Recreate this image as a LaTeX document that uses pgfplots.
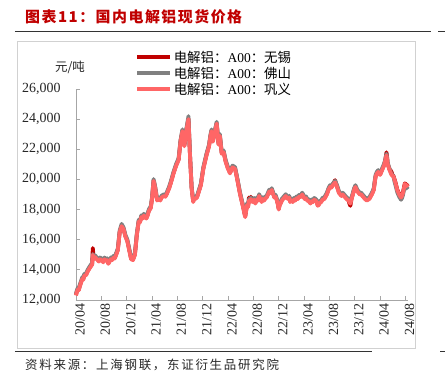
\documentclass[border=0pt]{standalone}
\usepackage{pgfplots}
\pgfplotsset{compat=1.18}
\usepackage{pgfplotstable}
\usepackage{fontspec}
\setmainfont{Liberation Serif}
\newfontfamily\cjk{Noto Sans CJK SC}
\definecolor{wx}{HTML}{C00000}
\definecolor{fs}{HTML}{808080}
\definecolor{gy}{HTML}{FF6666}
\definecolor{titlered}{HTML}{C00000}
\definecolor{axgray}{HTML}{A6A6A6}
\pgfplotstableread{
m gy fs wx
0.0 12300 12420 12340
0.15 12550 12670 12590
0.3 12700 12820 12740
0.45 12650 12770 12690
0.6 12900 13020 12940
0.8 13150 13270 13190
1.0 13400 13520 13440
1.15 13350 13470 13390
1.3 13600 13720 13640
1.6 13650 13770 13690
1.8 13850 13970 13890
2.0 14000 14120 14040
2.3 14200 14320 14240
2.55 14350 14470 14390
2.65 15000 15050 15450
2.8 14700 14820 14740
3.0 14850 14970 14890
3.2 14750 14870 14790
3.4 14650 14770 14690
3.6 14550 14670 14590
3.8 14700 14820 14740
4.0 14650 14770 14690
4.3 14500 14620 14540
4.5 14700 14820 14740
4.7 14600 14720 14640
4.9 14650 14770 14690
5.1 14400 14520 14440
5.3 14550 14670 14590
5.5 14700 14820 14740
5.7 14650 14770 14690
5.9 14800 14920 14840
6.1 14750 14870 14790
6.3 14950 15070 14990
6.6 15300 15420 15340
6.9 16500 16620 16540
7.2 16900 17050 16940
7.5 16700 16820 16740
7.8 16200 16320 16240
8.1 15900 16020 15940
8.4 15300 15420 15340
8.7 14700 14820 14740
9.0 14650 14770 14690
9.3 15000 15120 15040
9.6 16300 16420 16340
9.9 17200 17320 17240
10.1 17150 17270 17190
10.3 17500 17620 17540
10.5 17400 17520 17440
10.7 17600 17720 17640
10.9 17500 17620 17540
11.1 17400 17520 17440
11.3 17600 17720 17640
11.5 17900 18020 17940
11.8 18100 18220 18140
12.0 18700 18820 18740
12.25 19900 20020 19940
12.5 19400 19520 19440
12.8 18600 18720 18640
13.1 18700 18820 18740
13.3 18600 18720 18640
13.5 18800 18920 18840
13.9 18900 19020 18940
14.1 18850 18970 18890
14.3 19000 19120 19040
14.7 19400 19520 19440
15.0 19800 19920 19840
15.4 20400 20520 20440
15.8 20900 21020 20940
16.2 21300 21420 21340
16.5 22500 22620 22540
16.8 23200 23320 23240
17.1 22200 22320 22240
17.4 23200 23320 23240
17.75 24000 24200 24040
18.0 21500 21620 21540
18.25 19400 19520 19440
18.5 18500 18620 18540
18.65 18750 18870 18790
18.8 18700 18820 18740
19.1 18800 18920 18840
19.4 19200 19320 19240
19.7 19600 19720 19640
20.1 20700 20820 20740
20.6 21600 21720 21640
21.0 22200 22320 22240
21.2 22800 22920 22840
21.4 23200 23320 23240
21.6 22500 22620 22540
21.9 23100 23220 23140
22.2 23700 23820 23740
22.5 22300 22420 22340
22.7 22900 23020 22940
23.0 21700 21820 21740
23.3 21800 21920 21840
23.6 21200 21320 21240
23.9 20800 20920 20840
24.3 20400 20520 20440
24.7 20800 20920 20840
25.1 20700 20820 20740
25.4 20100 20220 20140
25.9 19000 19120 19040
26.4 18100 18220 18140
26.7 17500 17620 17540
27.0 18300 18420 18340
27.15 18150 18270 18190
27.3 18600 18700 18800
27.45 18500 18620 18540
27.6 18700 18800 18850
27.75 18550 18670 18590
27.9 18500 18620 18540
28.1 18650 18770 18690
28.3 18400 18520 18440
28.45 18550 18670 18590
28.6 18700 18820 18740
28.75 18600 18720 18640
28.9 18900 19020 18940
29.1 18700 18820 18740
29.3 18500 18620 18540
29.5 18700 18820 18740
29.7 18600 18720 18640
29.9 18750 18870 18790
30.1 18800 18920 18840
30.3 19000 19120 19040
30.5 19200 19320 19240
30.7 19100 19220 19140
30.9 19300 19420 19340
31.1 19050 19170 19090
31.3 18800 18920 18840
31.5 18850 18970 18890
31.7 18600 18720 18640
31.85 18350 18470 18390
32.0 18000 18120 18040
32.15 18300 18420 18340
32.3 18400 18520 18440
32.5 18600 18720 18640
32.7 18700 18820 18740
32.9 18800 18920 18840
33.1 18900 19020 18940
33.3 18750 18870 18790
33.5 18700 18820 18740
33.65 18800 18920 18840
33.8 18500 18620 18540
34.0 18600 18720 18640
34.2 18500 18620 18540
34.4 18650 18770 18690
34.6 18600 18720 18640
34.8 18750 18870 18790
35.0 18700 18820 18740
35.2 18850 18970 18890
35.4 18800 18920 18840
35.55 18900 19020 18940
35.7 19000 19120 19040
35.9 18850 18970 18890
36.1 18700 18820 18740
36.3 18750 18870 18790
36.5 18600 18720 18640
36.75 18550 18670 18590
37.0 18400 18520 18440
37.2 18550 18670 18590
37.4 18500 18620 18540
37.6 18650 18770 18690
37.8 18600 18720 18640
38.0 18500 18620 18540
38.15 18250 18370 18290
38.3 18300 18420 18340
38.5 18450 18570 18490
38.7 18500 18620 18540
38.9 18650 18770 18690
39.2 18700 18820 18740
39.4 18850 18970 18890
39.6 19000 19120 19040
39.85 19300 19420 19340
40.1 19500 19620 19540
40.3 19450 19570 19490
40.5 19600 19700 19640
40.7 19700 19800 19800
40.9 19800 19900 19950
41.05 19650 19770 19690
41.2 19500 19620 19540
41.35 19300 19420 19340
41.5 19100 19220 19140
41.7 19000 19120 19040
41.9 18900 19020 18940
42.1 19000 19120 19040
42.3 18900 19020 18940
42.5 18800 18920 18840
42.7 18700 18820 18740
42.85 18650 18770 18690
43.0 18600 18720 18640
43.15 18500 18620 18400
43.3 18400 18500 18250
43.5 18700 18820 18740
43.7 19000 19120 19040
43.9 19300 19420 19340
44.1 19500 19620 19540
44.25 19350 19470 19390
44.4 19200 19320 19240
44.6 19100 19220 19140
44.8 19000 19120 19040
45.0 19000 19120 19040
45.2 18900 19020 18940
45.4 18800 18920 18840
45.6 18700 18820 18740
45.75 18650 18770 18690
45.9 18600 18720 18640
46.1 18650 18770 18690
46.3 18700 18820 18740
46.5 18850 18970 18890
46.7 19000 19120 19040
46.85 19150 19270 19190
47.0 19300 19420 19340
47.15 19800 19920 19840
47.3 20200 20320 20240
47.5 20400 20520 20440
47.7 20500 20620 20540
47.85 20350 20470 20390
48.0 20300 20420 20340
48.15 20450 20570 20490
48.3 20600 20720 20640
48.45 20750 20870 20790
48.6 20900 21020 20940
48.8 21200 21300 21240
49.0 21600 21700 21800
49.1 21300 21400 21500
49.2 21000 21100 21040
49.35 20800 20900 20840
49.5 20600 20700 20640
49.65 20450 20500 20600
49.8 20300 20350 20500
49.95 20250 20300 20290
50.1 20200 20200 20240
50.25 20000 19880 20040
50.4 19800 19650 19840
50.55 19550 19400 19590
50.7 19300 19150 19340
50.85 19150 19000 19190
51.0 19000 18850 19040
51.15 18900 18750 18940
51.3 18800 18650 18840
51.45 18900 18750 18940
51.6 19100 18950 19140
51.75 19400 19250 19440
51.9 19700 19550 19740
52.05 19650 19500 19690
52.2 19600 19450 19640
52.4 19500 19350 19540
}\pricedata
\begin{document}
\begin{tikzpicture}
\useasboundingbox (-76bp,-87bp) rectangle (369bp,300bp);
% outer decorations
\draw[draw=black!80, line width=0.9bp] (-61bp,269bp) -- (355bp,269bp);
\draw[draw=black!80, line width=0.9bp] (362bp,269bp) -- (369bp,269bp);
\draw[draw=black!80, line width=0.9bp] (-61bp,-51bp) -- (296bp,-51bp);
\draw[draw=black!80, line width=0.9bp] (364bp,-51bp) -- (369bp,-51bp);
\draw[draw=black!18, line width=0.8bp] (-59bp,-48bp) rectangle (339bp,259bp);
\node[anchor=west, inner sep=0pt, text=titlered, font=\cjk\bfseries\fontsize{15}{15}\selectfont\addfontfeature{LetterSpace=10}] at (-51bp,283bp) {图表11：国内电解铝现货价格};
\node[anchor=west, inner sep=0pt, text=black!85, font=\cjk\fontsize{12.5}{12.5}\selectfont\addfontfeature{LetterSpace=14}] at (-51bp,-65bp) {资料来源：上海钢联，东证衍生品研究院};
\node[inner sep=0pt, text=black!85, font=\cjk\fontsize{12.5}{12.5}\selectfont] at (-6bp,233bp) {元/吨};
\begin{axis}[
  scale only axis, width=332bp, height=211bp,
  xmin=0, xmax=52.4, ymin=12000, ymax=26000,
  axis x line*=bottom, axis y line*=left,
  axis line style={draw=axgray, line width=0.9bp},
  tick style={draw=axgray, line width=0.9bp},
  tick align=inside, major tick length=4bp,
  xtick={0,4,...,52},
  xticklabels={20/04,20/08,20/12,21/04,21/08,21/12,22/04,22/08,22/12,23/04,23/08,23/12,24/04,24/08},
  xticklabel style={rotate=90, anchor=east, yshift=-4bp, font=\fontsize{14}{14}\selectfont, text=black!85},
  ytick={12000,14000,...,26000},
  scaled y ticks=false,
  yticklabel style={font=\fontsize{14}{14}\selectfont, text=black!85, xshift=-12bp,
    /pgf/number format/.cd, fixed, 1000 sep={,}, assume math mode=true},
  clip=false,
  legend cell align=left,
  legend style={draw=none, fill=none, at={(axis description cs:0.178,1.19)}, anchor=north west,
    inner sep=0pt, row sep=0pt, column sep=0pt,
    font=\fontsize{13.5}{13.5}\selectfont,
    nodes={inner xsep=2bp, inner ysep=0pt, minimum height=16bp, text depth=0pt}},
  legend image code/.code={\draw[#1, line width=3.5bp] (0bp,0bp) -- (33bp,0bp);},
]
\addplot[wx, line width=3.8bp, line join=round] table[x=m, y=wx] {\pricedata};
\addlegendentry{{\cjk 电解铝：}A00{\cjk ：无锡}}
\addplot[fs, line width=3.8bp, line join=round] table[x=m, y=fs] {\pricedata};
\addlegendentry{{\cjk 电解铝：}A00{\cjk ：佛山}}
\addplot[gy, line width=3.8bp, line join=round] table[x=m, y=gy] {\pricedata};
\addlegendentry{{\cjk 电解铝：}A00{\cjk ：巩义}}
\end{axis}
\end{tikzpicture}
\end{document}
